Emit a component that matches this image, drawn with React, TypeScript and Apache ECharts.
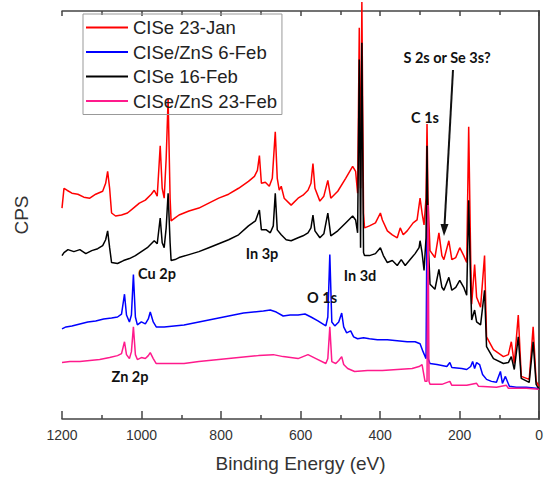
import React, { useEffect, useRef } from "react";
import * as echarts from "echarts";

// Binding energy (eV) vs intensity (arbitrary CPS units, offset traces)
const cise23Jan: [number, number][] = [
  [1200, 213], [1195, 233], [1187.5, 231], [1175.1, 228], [1160.1, 227], [1145.1, 224], [1130.1, 223],
  [1115.2, 227], [1097.7, 230], [1090.2, 238], [1085.2, 250], [1080.2, 233], [1075.3, 208], [1065.3, 205],
  [1050.3, 206], [1035.3, 208], [1020.4, 213], [1005.4, 218], [990.4, 221], [975.5, 227], [968, 231],
  [960.5, 225], [953, 276], [948, 233], [943, 223], [938, 263], [933.1, 323], [928.1, 223], [925.6, 200],
  [915.6, 203], [905.6, 206], [880.7, 210], [855.7, 213], [830.8, 218], [805.8, 223], [780.9, 227],
  [755.9, 233], [731, 240], [716, 245], [708.5, 251], [703.5, 266], [698.5, 238], [688.6, 239],
  [678.6, 235], [671.1, 243], [663.6, 290], [658.6, 243], [653.6, 231], [648.6, 235], [641.2, 223],
  [623.7, 216], [606.2, 223], [593.8, 226], [581.3, 231], [573.8, 238], [568.8, 258], [563.8, 233],
  [551.4, 220], [541.4, 225], [531.4, 241], [523.9, 223], [506.4, 230], [486.5, 243], [469, 255],
  [461.5, 250], [456.5, 228], [452.3, 395], [449.1, 233], [445.8, 421], [441.6, 208], [439.1, 193],
  [426.6, 195], [411.6, 198], [399.2, 208], [394.2, 201], [381.7, 190], [369.2, 186], [356.8, 183],
  [349.3, 193], [341.8, 186], [331.8, 190], [316.8, 198], [306.9, 201], [299.4, 223], [294.4, 208],
  [289.4, 196], [284.4, 223], [281.9, 298], [279.4, 223], [274.4, 170], [262, 163], [252, 188],
  [244.5, 165], [239.5, 161], [227, 180], [219.5, 161], [209.6, 163], [199.6, 173], [189.6, 165],
  [182.1, 158], [177.1, 295], [172.1, 163], [169.6, 116], [162.2, 156], [157.2, 123], [147.2, 113],
  [137.2, 165], [132.2, 83], [114.8, 70], [89.8, 63], [77.3, 65], [69.9, 78], [62.4, 56], [52.4, 105],
  [44.9, 43], [24.9, 40], [15, 93], [7.5, 38], [0, 33],
];

const ciseZns6Feb: [number, number][] = [
  [1200, 91], [1190, 93], [1175.1, 94], [1155.1, 96], [1135.1, 98], [1115.2, 99], [1095.2, 101],
  [1075.3, 102], [1060.3, 103], [1050.3, 106], [1042.8, 126], [1037.8, 105], [1030.4, 98], [1025.4, 105],
  [1020.4, 146], [1015.4, 103], [1010.4, 95], [1000.4, 98], [990.4, 96], [982.9, 101], [978, 108],
  [970.5, 98], [963, 93], [943, 93], [918.1, 94], [893.1, 95], [868.2, 97], [843.2, 99], [818.3, 101],
  [793.3, 103], [768.4, 105], [743.4, 107], [718.5, 108], [693.5, 109], [676.1, 110], [661.1, 108],
  [643.7, 104], [626.2, 105], [606.2, 105], [588.8, 106], [573.8, 103], [556.3, 99], [536.4, 94],
  [531.4, 103], [526.4, 166], [521.4, 98], [513.9, 94], [504, 98], [496.5, 107], [491.5, 93], [484, 87],
  [474, 89], [466.5, 83], [456.5, 81], [441.6, 82], [426.6, 81], [406.7, 80], [381.7, 80], [356.8, 79],
  [331.8, 78], [311.9, 78], [299.4, 76], [291.9, 68], [284.4, 61], [281.9, 208], [279.4, 61], [274.4, 56],
  [257, 55], [232, 53], [224.5, 57], [219.5, 52], [194.6, 51], [182.1, 50], [172.1, 53], [167.2, 58],
  [162.2, 51], [157.2, 57], [149.7, 55], [142.2, 45], [132.2, 40], [119.8, 38], [107.3, 37], [97.3, 48],
  [92.3, 36], [84.8, 43], [74.8, 33], [57.4, 32], [32.4, 32], [7.5, 31], [0, 30],
];

const cise16Feb: [number, number][] = [
  [1200, 165], [1195, 168], [1185, 171], [1170.1, 169], [1155.1, 171], [1140.1, 167], [1125.2, 170],
  [1110.2, 172], [1097.7, 175], [1090.2, 181], [1085.2, 190], [1080.2, 173], [1075.3, 158], [1060.3, 157],
  [1045.3, 160], [1030.4, 162], [1015.4, 165], [1000.4, 169], [985.4, 173], [975.5, 177], [968, 180],
  [960.5, 177], [953, 203], [948, 178], [943, 173], [938, 193], [933.1, 228], [928.1, 178], [925.6, 160],
  [915.6, 161], [905.6, 163], [880.7, 166], [855.7, 169], [830.8, 173], [805.8, 177], [780.9, 181],
  [755.9, 186], [731, 195], [713.5, 200], [703.5, 211], [698.5, 191], [686.1, 191], [676.1, 188],
  [668.6, 195], [663.6, 228], [658.6, 191], [648.6, 186], [636.2, 181], [623.7, 180], [606.2, 183],
  [593.8, 185], [581.3, 188], [573.8, 193], [568.8, 206], [563.8, 190], [551.4, 183], [541.4, 187],
  [531.4, 208], [523.9, 185], [506.4, 190], [486.5, 198], [469, 205], [461.5, 201], [456.5, 188],
  [452.3, 363], [449.1, 173], [445.8, 380], [441.6, 168], [439.1, 165], [426.6, 165], [411.6, 167],
  [399.2, 173], [391.7, 165], [381.7, 158], [369.2, 160], [356.8, 155], [346.8, 161], [336.8, 155],
  [324.3, 161], [311.9, 167], [301.9, 173], [299.4, 180], [294.4, 168], [289.4, 150], [284.4, 183],
  [281.9, 276], [279.4, 183], [274.4, 136], [262, 131], [252, 151], [244.5, 133], [239.5, 130], [227, 143],
  [219.5, 130], [209.6, 133], [199.6, 140], [189.6, 133], [182.1, 125], [177.1, 221], [172.1, 133],
  [169.6, 100], [162.2, 110], [157.2, 98], [147.2, 95], [137.2, 130], [132.2, 73], [114.8, 61], [89.8, 56],
  [77.3, 57], [69.9, 63], [62.4, 50], [52.4, 83], [44.9, 41], [24.9, 37], [15, 78], [7.5, 35], [0, 30],
];

const ciseZns23Feb: [number, number][] = [
  [1200, 57], [1180.1, 58], [1155.1, 58], [1130.1, 59], [1105.2, 60], [1080.2, 62], [1060.3, 64],
  [1050.3, 66], [1042.8, 78], [1037.8, 65], [1030.4, 61], [1025.4, 68], [1020.4, 93], [1015.4, 65],
  [1010.4, 60], [1000.4, 62], [990.4, 61], [982.9, 64], [978, 67], [970.5, 61], [963, 56], [930.6, 56],
  [893.1, 56], [855.7, 58], [805.8, 60], [755.9, 62], [706, 64], [668.6, 65], [643.7, 63], [606.2, 61],
  [581.3, 65], [561.3, 61], [536.4, 56], [531.4, 61], [526.4, 93], [521.4, 58], [511.4, 56], [504, 59],
  [496.5, 63], [491.5, 55], [481.5, 51], [464, 48], [431.6, 49], [394.2, 49], [356.8, 50], [319.3, 51],
  [301.9, 53], [294.4, 55], [286.9, 38], [281.9, 38], [279.4, 216], [276.9, 38], [274.4, 35], [244.5, 35],
  [224.5, 38], [219.5, 34], [182.1, 34], [157.2, 36], [152.2, 33], [107.3, 32], [82.3, 34], [77.3, 31],
  [32.4, 31], [0, 30],
];

const seriesNames = ["CISe 23-Jan", "CISe/ZnS 6-Feb", "CISe 16-Feb", "CISe/ZnS 23-Feb"];
const seriesColors = ["#ff0000", "#0000ff", "#000000", "#ff1a8c"];
const seriesData = [cise23Jan, ciseZns6Feb, cise16Feb, ciseZns23Feb];

const annotationFont = "Lato, 'Open Sans', sans-serif";
const axisFont = "'Liberation Sans', Arial, sans-serif";

export default function App() {
  const ref = useRef<HTMLDivElement>(null);
  useEffect(() => {
    document.body.style.margin = "0";
    const chart = echarts.init(ref.current!, null, { renderer: "svg" });
    const lbl = (text: string, x: number, y: number) => ({
      type: "text",
      x,
      y,
      style: {
        text,
        fill: "#111",
        font: `bold 14.5px ${annotationFont}`,
        align: "center",
        verticalAlign: "middle",
      },
      z: 100,
    });
    const axisLineStyle = { color: "#444", width: 1.5 };
    chart.setOption({
      animation: false,
      backgroundColor: "#fff",
      grid: { left: 62, right: 3, top: 11, bottom: 55 },
      legend: {
        orient: "vertical",
        left: 83,
        top: 14,
        padding: [4, 5, 4, 3],
        itemGap: 5.5,
        itemWidth: 42,
        itemHeight: 2,
        icon: "rect",
        borderColor: "#999",
        borderWidth: 1,
        selectedMode: false,
        data: seriesNames,
        textStyle: { fontSize: 18.5, fontFamily: axisFont, color: "#222", lineHeight: 18.5 },
      },
      xAxis: [
        {
          type: "value",
          min: 0,
          max: 1200,
          interval: 200,
          inverse: true,
          position: "bottom",
          axisLine: { show: true, onZero: false, lineStyle: axisLineStyle },
          axisTick: { show: true, inside: true, length: 8, lineStyle: axisLineStyle },
          minorTick: { show: true, splitNumber: 2, length: 4, lineStyle: { color: "#444", width: 1.5 } },
          splitLine: { show: false },
          axisLabel: {
            fontSize: 14,
            fontFamily: axisFont,
            color: "#333",
            margin: 9,
            formatter: (v: number) => String(v),
          },
          name: "Binding Energy (eV)",
          nameLocation: "middle",
          nameGap: 35,
          nameTextStyle: { fontSize: 19, fontFamily: axisFont, color: "#333" },
        },
        {
          type: "value",
          min: 0,
          max: 1200,
          interval: 200,
          inverse: true,
          position: "top",
          axisLine: { show: true, onZero: false, lineStyle: axisLineStyle },
          axisTick: { show: true, inside: true, length: 5, lineStyle: axisLineStyle },
          minorTick: { show: true, splitNumber: 2, length: 4, lineStyle: { color: "#444", width: 1.5 } },
          splitLine: { show: false },
          axisLabel: { show: false },
        },
      ],
      yAxis: [
        {
          type: "value",
          min: 0,
          max: 412,
          position: "left",
          axisLine: { show: true, lineStyle: axisLineStyle },
          axisTick: { show: false },
          axisLabel: { show: false },
          splitLine: { show: false },
          name: "CPS",
          nameLocation: "middle",
          nameGap: 31,
          nameTextStyle: { fontSize: 19, fontFamily: axisFont, color: "#333" },
        },
        {
          type: "value",
          min: 0,
          max: 412,
          position: "right",
          axisLine: { show: true, lineStyle: axisLineStyle },
          axisTick: { show: false },
          axisLabel: { show: false },
          splitLine: { show: false },
        },
      ],
      series: seriesData.map((d, i) => ({
        name: seriesNames[i],
        type: "line",
        data: d,
        symbol: "none",
        clip: false,
        color: seriesColors[i],
        lineStyle: { color: seriesColors[i], width: 1.5 },
        z: 2 + i,
      })),
      graphic: [
        lbl("S 2s or Se 3s?", 447, 57),
        lbl("C 1s", 425, 117),
        lbl("In 3d", 360, 275),
        lbl("O 1s", 322, 297),
        lbl("In 3p", 262, 253),
        lbl("Cu 2p", 157, 273),
        lbl("Zn 2p", 130, 376),
        {
          type: "line",
          shape: { x1: 453, y1: 70, x2: 444.5, y2: 226 },
          style: { stroke: "#111", lineWidth: 2 },
          z: 100,
        },
        {
          type: "polygon",
          shape: { points: [[444, 236], [448.5, 224], [440.5, 224]] },
          style: { fill: "#111" },
          z: 100,
        },
      ],
    });
    return () => chart.dispose();
  }, []);
  return (
    <div
      ref={ref}
      style={{ position: "absolute", left: 0, top: 0, width: 546, height: 478 }}
    />
  );
}
